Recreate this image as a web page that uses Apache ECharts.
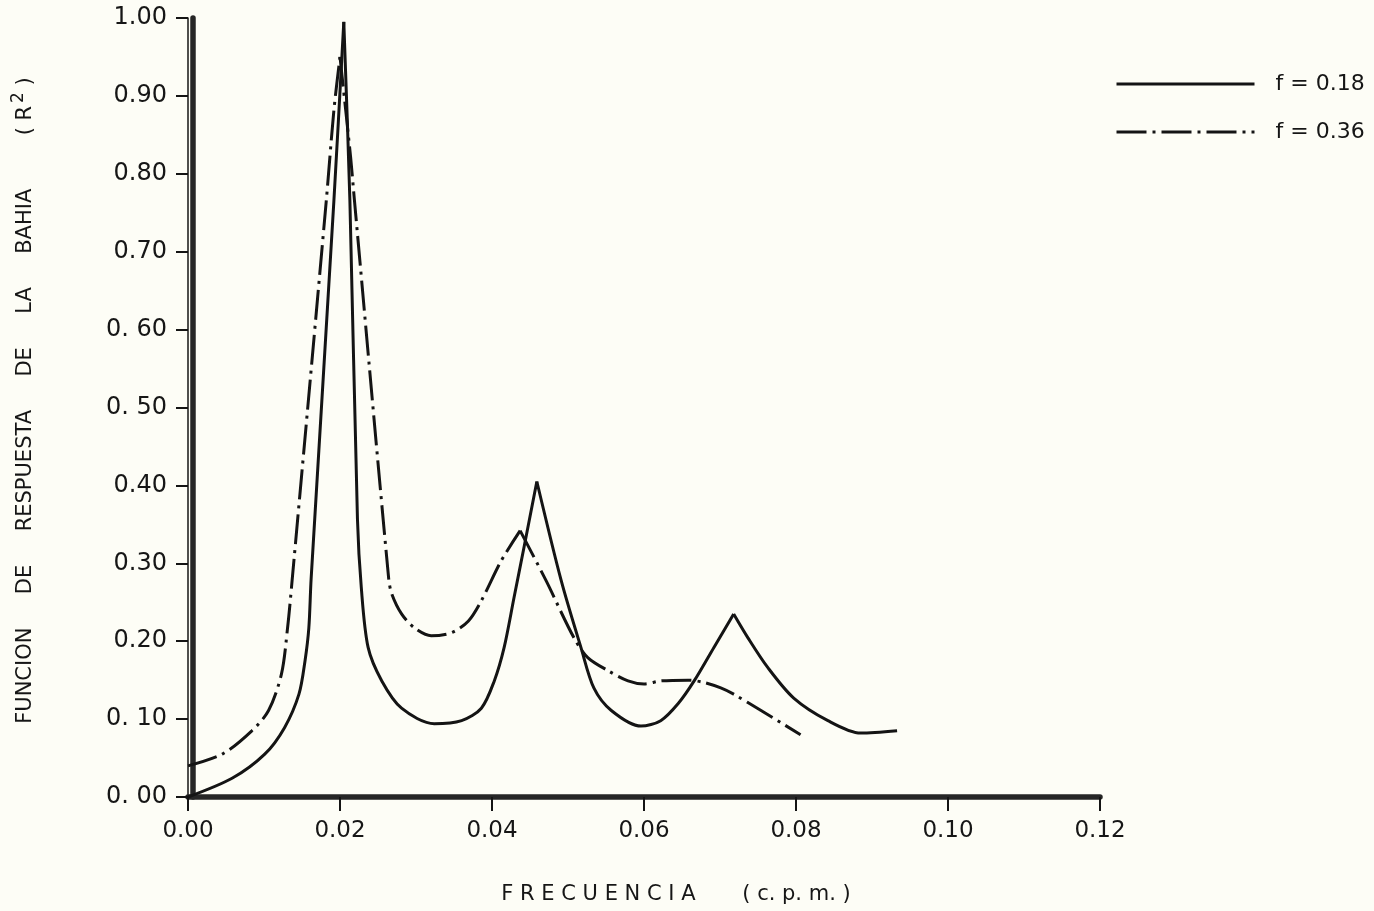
<!DOCTYPE html>
<html>
<head>
<meta charset="utf-8">
<script src="https://cdn.jsdelivr.net/npm/echarts@6/dist/echarts.min.js"></script>
<style>
  html, body { margin: 0; padding: 0; background: #fdfdf6; }
  #chart { width: 1374px; height: 911px; }
</style>
</head>
<body>
<div id="chart"></div>
<script>
// Bay response function R^2 versus frequency (c.p.m.) for two friction factors
const seriesNames = ['f = 0.18', 'f = 0.36'];

// f = 0.18 (solid)
const freqA = [0.0000, 0.0058, 0.0101, 0.0127, 0.0146, 0.0154, 0.0159, 0.0162, 0.0192, 0.0205,
               0.0213, 0.0223, 0.0228, 0.0237, 0.0255, 0.0281, 0.0324, 0.0360, 0.0386, 0.0403, 0.0416,
               0.0429, 0.0442, 0.0459, 0.0491, 0.0517, 0.0534, 0.0557, 0.0596, 0.0622, 0.0645, 0.0666,
               0.0692, 0.0718, 0.0737, 0.0763, 0.0797, 0.0842, 0.0885, 0.0933];
const respA = [0.000, 0.024, 0.055, 0.089, 0.132, 0.175, 0.217, 0.280, 0.766, 0.995,
               0.766, 0.356, 0.269, 0.192, 0.149, 0.114, 0.094, 0.098, 0.114, 0.149, 0.192,
               0.256, 0.320, 0.405, 0.278, 0.192, 0.140, 0.111, 0.091, 0.098, 0.120, 0.149,
               0.192, 0.235, 0.204, 0.166, 0.127, 0.098, 0.082, 0.085];
const peaksA = [0.0205, 0.0459, 0.0718];

// f = 0.36 (dash-dot)
const freqB = [0.0000, 0.0045, 0.0084, 0.0106, 0.0123, 0.0131, 0.0137, 0.0182, 0.0192, 0.0200, 0.0214,
               0.0219, 0.0264, 0.0268, 0.0281, 0.0298, 0.0320, 0.0347, 0.0369, 0.0386, 0.0412, 0.0437,
               0.0471, 0.0508, 0.0526, 0.0553, 0.0579, 0.0600, 0.0622, 0.0658, 0.0679, 0.0701, 0.0718,
               0.0754, 0.0806];
const respB = [0.040, 0.055, 0.085, 0.111, 0.158, 0.217, 0.278, 0.766, 0.882, 0.950, 0.821,
               0.766, 0.281, 0.261, 0.235, 0.217, 0.207, 0.211, 0.226, 0.252, 0.303, 0.342,
               0.278, 0.204, 0.179, 0.162, 0.149, 0.145, 0.149, 0.150, 0.147, 0.140, 0.132,
               0.111, 0.080];
const peaksB = [0.0200, 0.0437];

const xTickLabels = ['0.00', '0.02', '0.04', '0.06', '0.08', '0.10', '0.12'];
const yTickLabels = ['0. 00', '0. 10', '0.20', '0.30', '0.40', '0. 50', '0. 60', '0.70', '0.80', '0.90', '1.00'];

const FONT = 'DejaVu Sans';
const INK = '#141414';
const TEXT = '#161616';

// split a curve at its sharp resonance peaks so smoothing keeps the cusps
function segments(freq, resp, cusps) {
  const segs = [];
  let cur = [];
  freq.forEach((f, i) => {
    cur.push([f, resp[i]]);
    if (cusps.includes(f)) {
      segs.push(cur);
      cur = [[f, resp[i]]];
    }
  });
  if (cur.length > 1) segs.push(cur);
  return segs;
}

const styles = [
  { color: INK, width: 3, type: 'solid' },
  { color: INK, width: 3, type: [30, 6, 3, 6] }
];

const series = [];
[[freqA, respA, peaksA], [freqB, respB, peaksB]].forEach(([f, r, p], k) => {
  segments(f, r, p).forEach(seg => {
    series.push({
      name: seriesNames[k],
      type: 'line',
      data: seg,
      symbol: 'none',
      smooth: 0.3,
      lineStyle: styles[k],
      itemStyle: { color: INK },
      silent: true,
      animation: false
    });
  });
});

const chart = echarts.init(document.getElementById('chart'), null, { renderer: 'canvas' });
chart.setOption({
  backgroundColor: '#fdfdf6',
  animation: false,
  grid: { left: 188, right: 274, top: 18, bottom: 114 },
  legend: {
    data: seriesNames,
    orient: 'vertical',
    left: 1110,
    top: 68,
    itemWidth: 138,
    itemHeight: 14,
    itemGap: 26,
    itemStyle: { opacity: 0 },
    lineStyle: { width: 3 },
    textStyle: { fontFamily: FONT, fontSize: 22, color: TEXT, padding: [0, 0, 0, 16] }
  },
  xAxis: [
    {
      type: 'value', min: 0, max: 0.12, interval: 0.02,
      position: 'bottom', offset: 4,
      axisLine: { lineStyle: { color: INK, width: 1.5 } },
      axisTick: { length: 14, lineStyle: { color: INK, width: 2 } },
      splitLine: { show: false },
      axisLabel: {
        margin: 19, fontFamily: FONT, fontSize: 23, color: TEXT,
        formatter: v => xTickLabels[Math.round(v / 0.02)]
      },
      name: 'F R E C U E N C I A       ( c. p. m. )',
      nameLocation: 'middle',
      nameGap: 83,
      nameTextStyle: { fontFamily: FONT, fontSize: 21, color: TEXT, padding: [0, 0, 0, 64] }
    },
    {
      type: 'value', min: 0, max: 0.12, interval: 0.02,
      position: 'bottom', offset: 0,
      axisLine: { lineStyle: { color: '#262626', width: 5.5 } },
      axisTick: { show: false }, axisLabel: { show: false }, splitLine: { show: false }
    }
  ],
  yAxis: [
    {
      type: 'value', min: 0, max: 1, interval: 0.1,
      position: 'left', offset: 4,
      axisLine: { lineStyle: { color: INK, width: 1.5 } },
      axisTick: { length: 12, lineStyle: { color: INK, width: 2 } },
      splitLine: { show: false },
      axisLabel: {
        margin: 17, fontFamily: FONT, fontSize: 24, color: TEXT,
        formatter: v => yTickLabels[Math.round(v / 0.1)]
      },
      name: '{n|FUNCION     DE     RESPUESTA     DE     LA     BAHIA        ( R}{s|2}{n| )}',
      nameLocation: 'middle',
      nameRotate: 90,
      nameGap: 145,
      nameTextStyle: {
        padding: [0, 0, 0, 14],
        rich: {
          n: { fontFamily: FONT, fontSize: 21, color: TEXT, lineHeight: 26 },
          s: { fontFamily: FONT, fontSize: 17, color: TEXT, lineHeight: 26, padding: [0, 0, 14, 3] }
        }
      }
    },
    {
      type: 'value', min: 0, max: 1, interval: 0.1,
      position: 'left', offset: -5,
      axisLine: { lineStyle: { color: '#262626', width: 5.5 } },
      axisTick: { show: false }, axisLabel: { show: false }, splitLine: { show: false }
    }
  ],
  series: series
});
</script>
</body>
</html>
